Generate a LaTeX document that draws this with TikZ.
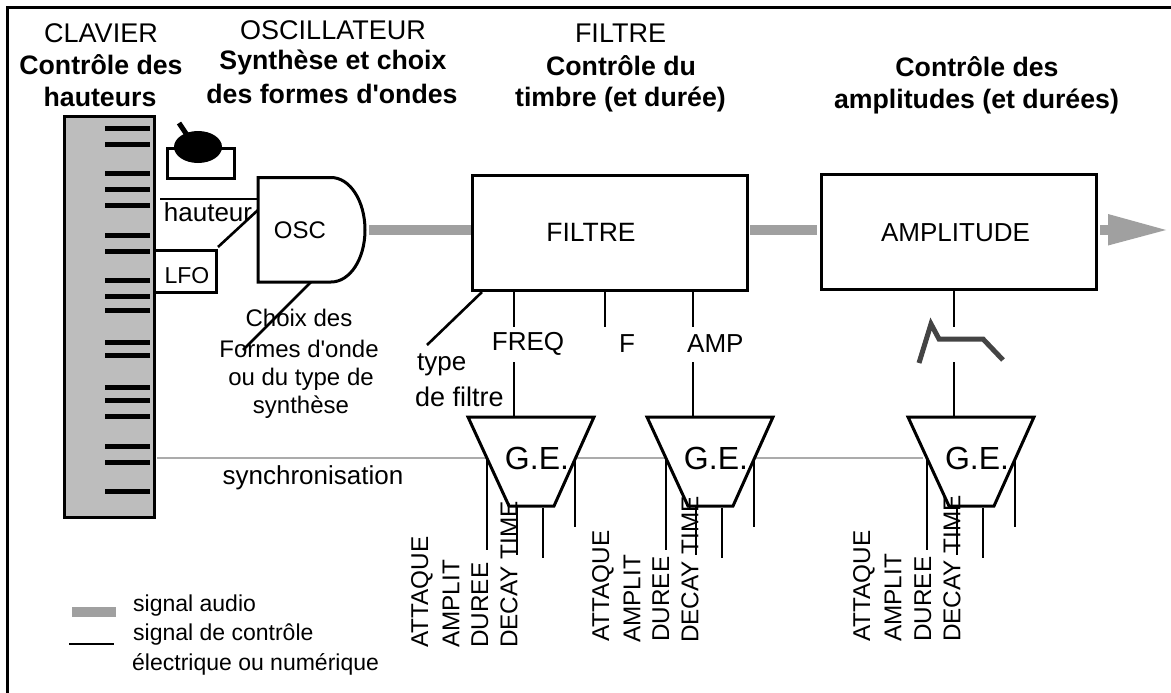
\documentclass[tikz,border=0pt]{standalone}
\usepackage{fontspec}
\setmainfont{Liberation Sans}[Ligatures=TeXOff]
\usetikzlibrary{calc}
\definecolor{audiogray}{HTML}{A0A0A0}
\definecolor{syncgray}{HTML}{ABABAB}
\definecolor{keygray}{HTML}{BDBDBD}
\definecolor{envgray}{HTML}{444444}
\tikzset{
  x=1pt,y=-1pt,
  ctl/.style={draw=black,line width=2.6pt},
  audio/.style={draw=audiogray,line width=10pt},
  sync/.style={draw=syncgray,line width=2.6pt},
  box/.style={draw=black,line width=3pt,fill=white,inner sep=0pt,outer sep=0pt},
  keybar/.style={draw=black,line width=5pt},
  title/.style={font=\fontsize{27}{30}\selectfont,inner sep=0pt,align=center},
  titleb/.style={font=\fontsize{26.7}{30}\selectfont\bfseries,inner sep=0pt,align=center},
  lab/.style={font=\fontsize{24}{28}\selectfont,inner sep=0pt,align=center},
  labw/.style={font=\fontsize{26}{28}\selectfont,inner sep=0pt,align=center},
  leg/.style={font=\fontsize{23}{26}\selectfont,inner sep=0pt,anchor=west},
  vlab/.style={font=\fontsize{24.3}{28}\selectfont,inner sep=0pt,rotate=90,anchor=west},
  gelab/.style={font=\fontsize{32}{36}\selectfont,inner sep=0pt},
}
\newcommand{\gecell}[2]{%
  \draw[box] (#1+468,417) -- (#1+594,417) -- (#1+554,506) -- (#1+509,506) -- cycle;
  \node[gelab] (ge#2) at (#1+537,458) {G.E.};
  \coordinate (ge#2top) at (#1+514,417);
  \coordinate (ge#2a) at (#1+487,458);
  \coordinate (ge#2ae) at (#1+487,550);
  \coordinate (ge#2b) at (#1+517,506);
  \coordinate (ge#2be) at (#1+517,555);
  \coordinate (ge#2c) at (#1+543,508);
  \coordinate (ge#2ce) at (#1+543,558);
  \coordinate (ge#2d) at (#1+575,458);
  \coordinate (ge#2de) at (#1+575,527);
  \draw[ctl] (ge#2a) -- (ge#2ae);
  \draw[ctl] (ge#2b) -- (ge#2be);
  \draw[ctl] (ge#2c) -- (ge#2ce);
  \draw[ctl] (ge#2d) -- (ge#2de);
}
\begin{document}
\begin{tikzpicture}
\useasboundingbox (0,0) rectangle (1171,693);
\fill[white] (0,0) rectangle (1171,693);
\draw[draw=black,line width=3pt] (7.5,693) -- (7.5,7.5) -- (1171,7.5);

% titles
\node[title] (t1) at (101,33) {CLAVIER};
\node[titleb] (t1b) at (101,65) {Contrôle des};
\node[titleb] (t1c) at (100,97) {hauteurs};
\node[title] (t2) at (333,30) {OSCILLATEUR};
\node[titleb] (t2b) at (333,62) {Synthèse et choix};
\node[titleb] (t2c) at (332,94) {des formes d'ondes};
\node[title] (t3) at (620.5,33) {FILTRE};
\node[titleb] (t3b) at (621,66) {Contrôle du};
\node[titleb] (t3c) at (620.5,99) {timbre (et durée)};
\node[titleb] (t4b) at (977,67) {Contrôle des};
\node[titleb] (t4c) at (976.5,101) {amplitudes (et durées)};

% keyboard
\draw[draw=black,line width=3pt,fill=keygray] (64,116.5) rectangle (154,517);
\foreach \k in {128,144,173,189,205,235,251,280,296,310,342,355,387,400,416,446,462,491}
  \draw[keybar] (105,\k) -- (150,\k);

% knob
\draw[box] (167,148) rectangle (234.5,178);
\draw[draw=black,line width=5pt] (179,123) -- (187,135);
\fill[black] (198,147) ellipse [x radius=24,y radius=16];

% hauteur + LFO
\coordinate (hstart) at (160,199);
\coordinate (hend) at (258,199);
\draw[ctl] (hstart) -- (hend);
\node[labw] (hauteur) at (208,212) {hauteur};
\draw[box] (154,250) rectangle (216,292);
\node[lab,font=\fontsize{23}{28}\selectfont] (lfo) at (187,276) {LFO};
\coordinate (lfoa) at (218,247);
\coordinate (lfob) at (258,210);
\draw[ctl] (lfoa) -- (lfob);

% OSC
\draw[box] (258,177.5) -- (331,177.5) .. controls (350,177.5) and (365,201) .. (365,230) .. controls (365,259) and (350,282) .. (331,282) -- (258,282) -- cycle;
\node[lab] (osc) at (300,230) {OSC};
\coordinate (osca) at (311,282);
\coordinate (oscb) at (243,350);
\draw[ctl] (osca) -- (oscb);
\node[lab] (c1) at (299,318) {Choix des};
\node[lab] (c2) at (299,349) {Formes d'onde};
\node[lab] (c3) at (301,379) {ou du type de};
\node[lab] (c4) at (301,407) {synthèse};

% filter
\node[box,minimum width=275pt,minimum height=115pt] (filtre) at (609.5,232.5) {};
\node[labw,font=\fontsize{26.5}{28}\selectfont] (filtrelab) at (591,232) {FILTRE};
\node[box,minimum width=275pt,minimum height=115pt] (ampbox) at (958.5,231.5) {};
\node[labw] (amplab) at (955.5,233) {AMPLITUDE};

% audio
\coordinate (a1) at (369,230);
\coordinate (a2) at (471,230);
\draw[audio] (a1) -- (a2);
\coordinate (a3) at (750,230);
\coordinate (a4) at (817,230);
\draw[audio] (a3) -- (a4);
\coordinate (a5) at (1100,230);
\coordinate (a6) at (1110,230);
\draw[audio] (a5) -- (a6);
\fill[audiogray] (1108,214) -- (1166,230) -- (1108,245.5) -- cycle;

% filter stubs
\coordinate (ty1) at (482,292);
\coordinate (ty2) at (427,345);
\draw[ctl] (ty1) -- (ty2);
\node[labw,anchor=west] (ty) at (417,365) {type};
\node[labw,anchor=west,font=\fontsize{27}{28}\selectfont] (df) at (415,397) {de filtre};
\coordinate (s1) at (514,290);
\coordinate (s1e) at (514,327);
\coordinate (s2) at (605,290);
\coordinate (s2e) at (605,327);
\coordinate (s3) at (693,290);
\coordinate (s3e) at (693,327);
\draw[ctl] (s1) -- (s1e);
\draw[ctl] (s2) -- (s2e);
\draw[ctl] (s3) -- (s3e);
\node[labw] (freq) at (528,344) {FREQ};
\node[labw] (f) at (627,344) {F};
\node[labw,anchor=west] (amp) at (687,344) {AMP};
\coordinate (s1b) at (514,362);
\coordinate (s3b) at (693,362);

% sync
\coordinate (y0) at (157,458);
\coordinate (y1) at (486,458);
\coordinate (y2) at (577,458);
\coordinate (y3) at (667,458);
\coordinate (y4) at (755,458);
\coordinate (y5) at (923,458);
\draw[sync] (y0) -- (y1);
\draw[sync] (y2) -- (y3);
\draw[sync] (y4) -- (y5);
\node[labw] (sync) at (313,478) {synchronisation};

% G.E. cells
\gecell{0}{1}
\gecell{179}{2}
\gecell{440}{3}
\draw[ctl] (s1b) -- (ge1top);
\draw[ctl] (s3b) -- (ge2top);
\coordinate (s4) at (954,289);
\coordinate (s4e) at (954,327);
\coordinate (s4b) at (954,362);
\coordinate (s4c) at (954,417);
\draw[ctl] (s4) -- (s4e);
\draw[ctl] (s4b) -- (s4c);

% envelope
\draw[draw=envgray,line width=5pt,miter limit=10] (919,363) -- (931,324) -- (939,339) -- (983,339) -- (1003,360);

% vertical labels
\node[vlab] (a1l) at (422,648) {ATTAQUE};
\node[vlab] (b1l) at (451,648) {AMPLIT};
\node[vlab] (c1l) at (480,648) {DUREE};
\node[vlab] (d1l) at (509,648) {DECAY TIME};
\node[vlab] (a2l) at (603,642) {ATTAQUE};
\node[vlab] (b2l) at (632,643) {AMPLIT};
\node[vlab] (c2l) at (661,642) {DUREE};
\node[vlab] (d2l) at (690,643) {DECAY TIME};
\node[vlab] (a3l) at (864,642) {ATTAQUE};
\node[vlab] (b3l) at (893,642) {AMPLIT};
\node[vlab] (c3l) at (923,642) {DUREE};
\node[vlab] (d3l) at (952,642) {DECAY TIME};

% legend
\coordinate (la) at (72,611.5);
\coordinate (lb) at (116,611.5);
\draw[audio] (la) -- (lb);
\coordinate (lc) at (69,644);
\coordinate (ld) at (114,644);
\draw[ctl] (lc) -- (ld);
\node[leg] (l1) at (133,606) {signal audio};
\node[leg] (l2) at (133,635) {signal de contrôle};
\node[leg] (l3) at (132,664) {électrique ou numérique};
\end{tikzpicture}
\end{document}
